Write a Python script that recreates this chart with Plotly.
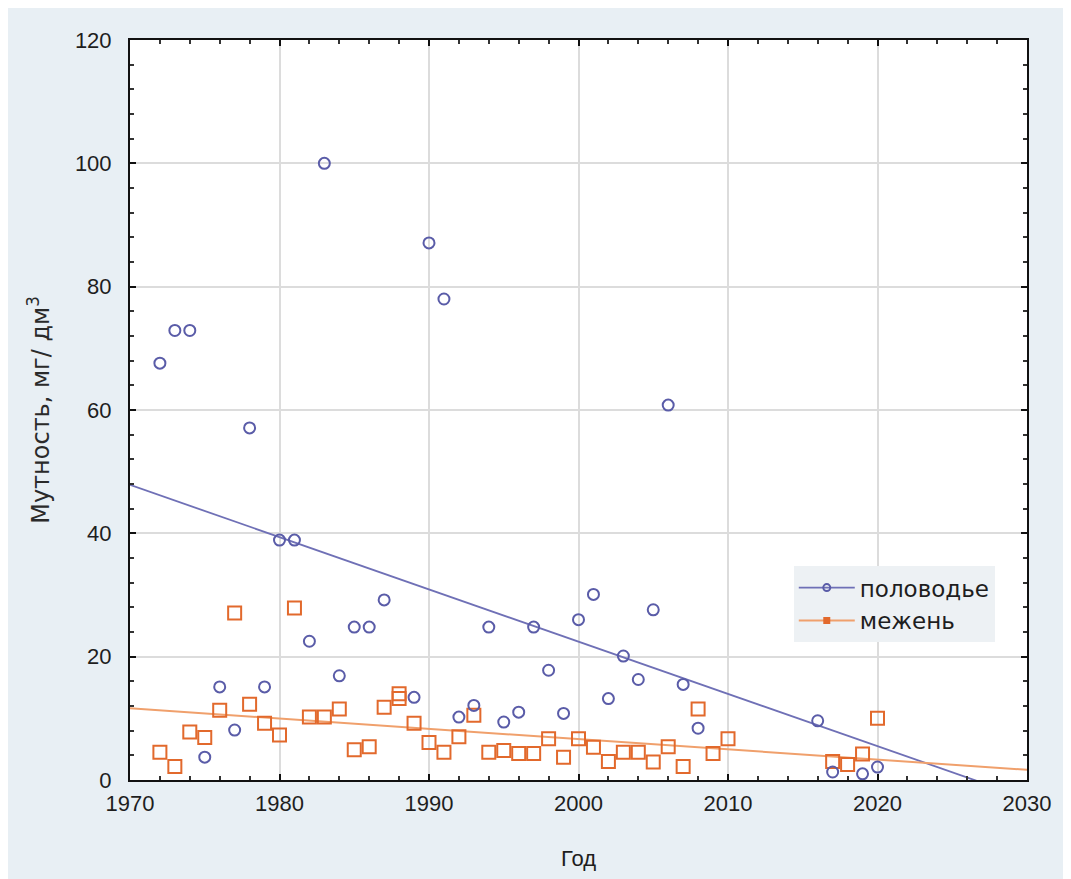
import numpy as np
import plotly.graph_objects as go

# половодье (flood season)
flood_years = [1972, 1973, 1974, 1975, 1976, 1977, 1978, 1979, 1980, 1981, 1982, 1983,
               1984, 1985, 1986, 1987, 1989, 1990, 1991, 1992, 1993, 1994, 1995, 1996,
               1997, 1998, 1999, 2000, 2001, 2002, 2003, 2004, 2005, 2006, 2007, 2008,
               2016, 2017, 2019, 2020]
flood_vals = [67.6, 72.9, 72.9, 3.7, 15.1, 8.1, 57.1, 15.1, 38.9, 38.9, 22.5, 100.0,
              16.9, 24.8, 24.8, 29.2, 13.4, 87.1, 78.0, 10.2, 12.1, 24.8, 9.4, 11.0,
              24.8, 17.8, 10.8, 26.0, 30.1, 13.2, 20.1, 16.3, 27.6, 60.8, 15.5, 8.4,
              9.6, 1.3, 1.0, 2.1]

# межень (low water)
low_years = [1972, 1973, 1974, 1975, 1976, 1977, 1978, 1979, 1980, 1981, 1982, 1983,
             1984, 1985, 1986, 1987, 1988, 1988, 1989, 1990, 1991, 1992, 1993, 1994,
             1995, 1996, 1997, 1998, 1999, 2000, 2001, 2002, 2003, 2004, 2005, 2006,
             2007, 2008, 2009, 2010, 2017, 2018, 2019, 2020]
low_vals = [4.5, 2.2, 7.8, 6.9, 11.3, 27.1, 12.3, 9.2, 7.3, 27.9, 10.2, 10.2,
            11.5, 4.9, 5.4, 11.8, 14.0, 13.2, 9.2, 6.1, 4.5, 7.0, 10.5, 4.5,
            4.8, 4.3, 4.3, 6.7, 3.7, 6.7, 5.3, 3.0, 4.5, 4.5, 2.9, 5.4,
            2.2, 11.5, 4.3, 6.7, 3.0, 2.5, 4.2, 10.0]

x_ticks = [1970, 1980, 1990, 2000, 2010, 2020, 2030]
y_ticks = [0, 20, 40, 60, 80, 100, 120]
series_names = ["половодье", "межень"]

BLUE = "#5a5ca8"
BLUE_LINE = "#6f70b6"
ORANGE = "#e2692c"
ORANGE_LINE = "#f0a06c"
TEXT = "#1e1e1e"

trend_x = np.array([x_ticks[0], x_ticks[-1]], dtype=float)
fb = np.polyfit(flood_years, flood_vals, 1)
lb = np.polyfit(low_years, low_vals, 1)

fig = go.Figure()

fig.add_trace(go.Scatter(x=trend_x, y=np.polyval(fb, trend_x), mode="lines",
                         line=dict(color=BLUE_LINE, width=1.8), showlegend=False,
                         hoverinfo="skip"))
fig.add_trace(go.Scatter(x=trend_x, y=np.polyval(lb, trend_x), mode="lines",
                         line=dict(color=ORANGE_LINE, width=2), showlegend=False,
                         hoverinfo="skip"))

fig.add_trace(go.Scatter(x=low_years, y=low_vals, mode="markers", showlegend=False,
                         marker=dict(symbol="square-open", size=13, color=ORANGE,
                                     line=dict(width=2, color=ORANGE))))
fig.add_trace(go.Scatter(x=flood_years, y=flood_vals, mode="markers", showlegend=False,
                         marker=dict(symbol="circle-open", size=11, color=BLUE,
                                     line=dict(width=2, color=BLUE))))

# legend entries (line + marker)
fig.add_trace(go.Scatter(x=[None], y=[None], mode="lines+markers", name=series_names[0],
                         line=dict(color=BLUE_LINE, width=1.8),
                         marker=dict(symbol="circle-open", size=7, color=BLUE,
                                     line=dict(width=2, color=BLUE))))
fig.add_trace(go.Scatter(x=[None], y=[None], mode="lines+markers", name=series_names[1],
                         line=dict(color=ORANGE_LINE, width=2),
                         marker=dict(symbol="square", size=7, color=ORANGE)))

tick_font = dict(family="Liberation Sans, Arial, sans-serif", size=22, color=TEXT)

fig.update_xaxes(range=[1970, 2030], tickvals=x_ticks, ticktext=[str(t) for t in x_ticks],
                 showgrid=True, gridcolor="#dcdcdc", gridwidth=1.5,
                 showline=True, linecolor="#111111", linewidth=2, mirror="allticks",
                 ticks="inside", ticklen=6, tickcolor="#111111", tickwidth=1.5,
                 minor=dict(dtick=2, ticks="inside", ticklen=4, tickcolor="#333333",
                            showgrid=False),
                 tickfont=tick_font, zeroline=False, ticklabelstandoff=3,
                 title=dict(text="Год", font=dict(family="Liberation Sans, Arial, sans-serif",
                                                  size=22, color=TEXT), standoff=35))
fig.update_yaxes(range=[0, 120], tickvals=y_ticks, ticktext=[str(t) for t in y_ticks],
                 showgrid=True, gridcolor="#dcdcdc", gridwidth=1.5,
                 showline=True, linecolor="#111111", linewidth=2, mirror="allticks",
                 ticks="inside", ticklen=6, tickcolor="#111111", tickwidth=1.5,
                 minor=dict(dtick=4, ticks="inside", ticklen=4, tickcolor="#333333",
                            showgrid=False),
                 tickfont=tick_font, zeroline=False, ticklabelstandoff=12,
                 title=dict(text="Мутность, мг/ дм<sup>3</sup>", font=dict(
                     family="DejaVu Sans, sans-serif", size=24, color="#2a2a2a"),
                     standoff=18))

fig.update_layout(
    width=1055, height=871,
    margin=dict(l=122, r=25, t=32, b=87),
    paper_bgcolor="#e8eff4", plot_bgcolor="#ffffff",
    legend=dict(x=0.74, y=0.289, xanchor="left", yanchor="top",
                bgcolor="#edf1f4", borderwidth=0,
                font=dict(family="DejaVu Sans, sans-serif", size=23, color=TEXT),
                itemwidth=56, tracegroupgap=0),
)

fig.write_html("out.html")
